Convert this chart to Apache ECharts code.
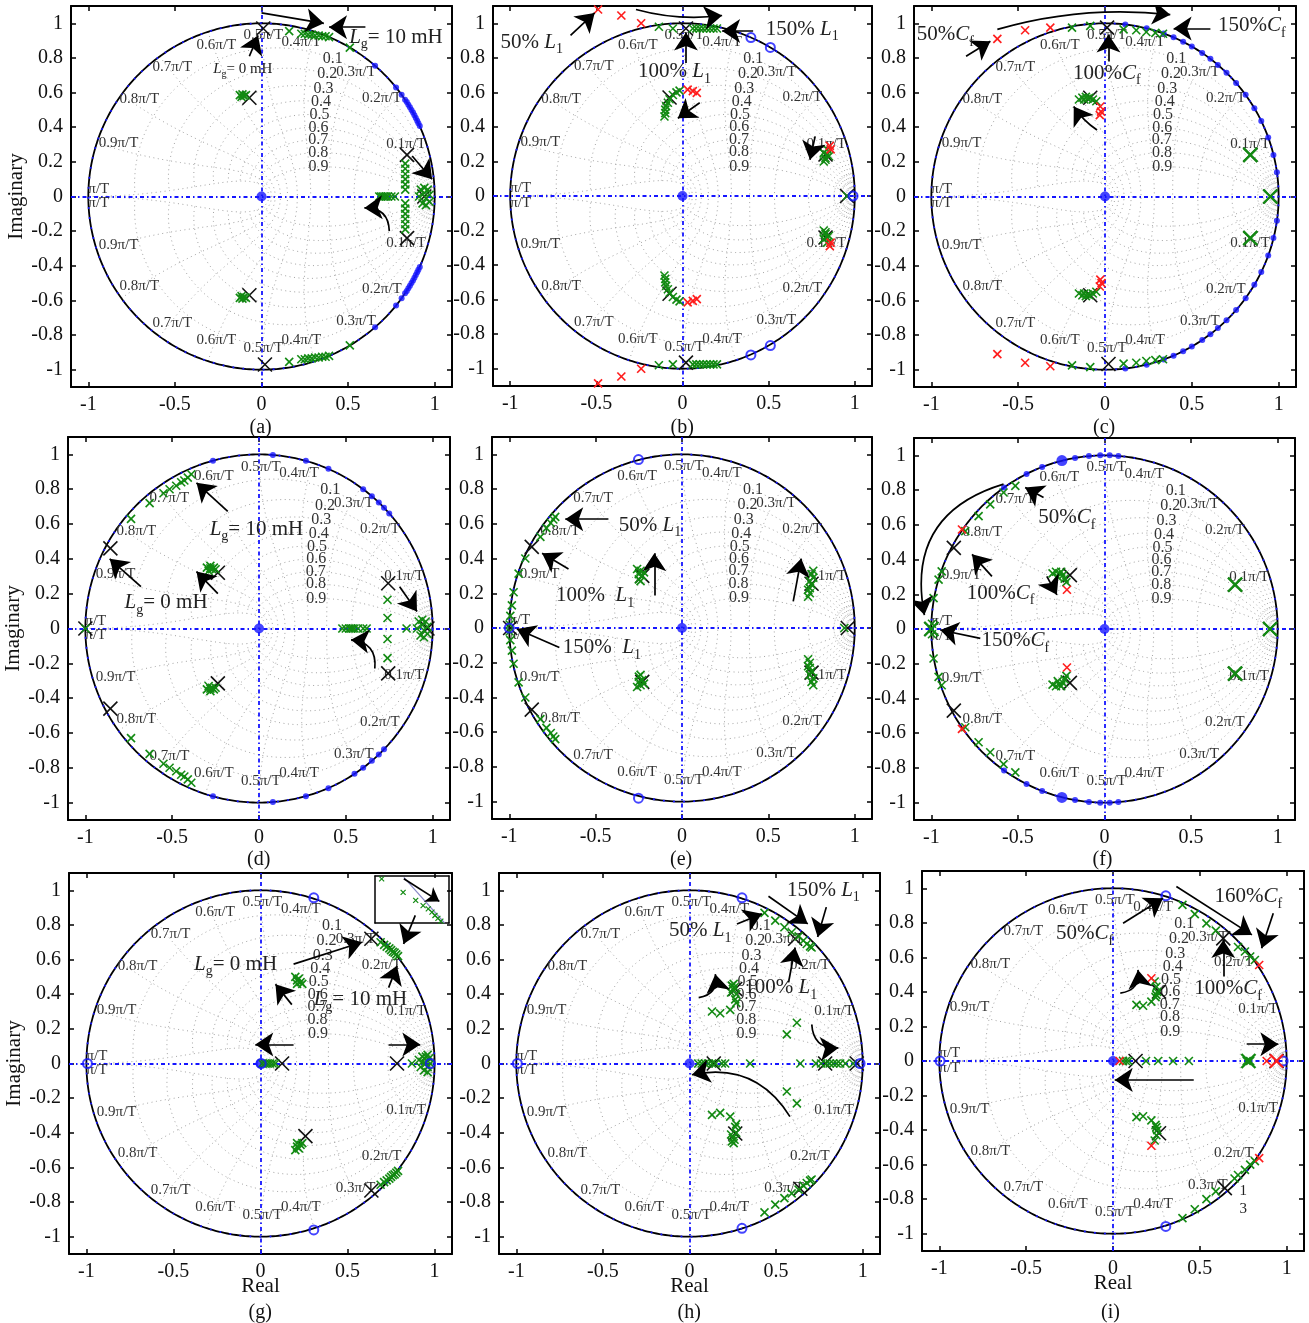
<!DOCTYPE html>
<html><head><meta charset="utf-8">
<script src="https://cdn.jsdelivr.net/npm/echarts@6/dist/echarts.min.js"></script>
<style>html,body{margin:0;padding:0;background:#fff}#c{width:1309px;height:1323px}</style>
</head><body><div id="c"></div>
<script>
// ---------------- tick labels / categories ----------------
const xTicks = [-1, -0.5, 0, 0.5, 1];
const yTicks = [-1, -0.8, -0.6, -0.4, -0.2, 0, 0.2, 0.4, 0.6, 0.8, 1];
const captions = ['(a)', '(b)', '(c)', '(d)', '(e)', '(f)', '(g)', '(h)', '(i)'];
const zetaValues = [0.1, 0.2, 0.3, 0.4, 0.5, 0.6, 0.7, 0.8, 0.9];
const wnValues = [0.1, 0.2, 0.3, 0.4, 0.5, 0.6, 0.7, 0.8, 0.9, 1.0];
const wnSmallValues = [0.016, 0.029, 0.041];
const wnLabels = ['0.1π/T', '0.2π/T', '0.3π/T', '0.4π/T', '0.5π/T', '0.6π/T', '0.7π/T', '0.8π/T', '0.9π/T', 'π/T'];

// ---------------- panel (a) ----------------
const aGreen = [[0.16,0.955],[0.23,0.94],[0.25,0.94],[0.27,0.935],[0.29,0.935],[0.31,0.93],[0.33,0.93],[0.35,0.925],[0.37,0.925],[0.39,0.92],[0.51,0.86],
 [0.16,-0.955],[0.23,-0.94],[0.25,-0.94],[0.27,-0.935],[0.29,-0.935],[0.31,-0.93],[0.33,-0.93],[0.35,-0.925],[0.37,-0.925],[0.39,-0.92],[0.51,-0.86],
 [-0.125,0.585],[-0.11,0.59],[-0.1,0.58],[-0.09,0.585],[-0.115,0.575],
 [-0.125,-0.585],[-0.11,-0.59],[-0.1,-0.58],[-0.09,-0.585],[-0.115,-0.575],
 [0.83,0.19],[0.83,0.16],[0.83,0.13],[0.83,0.1],[0.83,0.07],[0.83,0.04],
 [0.83,-0.19],[0.83,-0.16],[0.83,-0.13],[0.83,-0.1],[0.83,-0.07],[0.83,-0.04],
 [0.68,0],[0.69,0],[0.7,0],[0.71,0],[0.72,0],[0.73,0],[0.75,0],[0.77,0],
 [0.92,0.04],[0.94,0.05],[0.96,0.04],[0.97,0.01],[0.91,0],[0.93,-0.04],[0.95,-0.05],[0.97,-0.03],[0.94,0.02],[0.95,-0.01]];
const aRed = [];
const aBlack = [[0.01,0.97],[-0.07,0.57],[0.84,0.24],[0.94,0],[0.84,-0.24],[-0.07,-0.57],[0.02,-0.97]];
const aBlueOpen = [];
const aBlueDot = [[0.656,0.755],[0.777,0.629],[0.809,0.588],[0.829,0.559],[0.839,0.545],[0.848,0.53],[0.857,0.515],[0.866,0.5],[0.875,0.485],[0.883,0.469],[0.891,0.454],[0.899,0.438],[0.906,0.423],[0.914,0.407],
 [0.656,-0.755],[0.777,-0.629],[0.809,-0.588],[0.829,-0.559],[0.839,-0.545],[0.848,-0.53],[0.857,-0.515],[0.866,-0.5],[0.875,-0.485],[0.883,-0.469],[0.891,-0.454],[0.899,-0.438],[0.906,-0.423],[0.914,-0.407]];
const aArrows = [[0.0,1.06,0.36,1.0,0],[0.6,0.978,0.39,0.978,0],[-0.07,0.81,-0.02,0.93,0],[0.87,0.234,0.985,0.1,0],[0.738,-0.2,0.594,-0.066,-0.5]];
const aTexts = [[0.776,0.92,'{i|L}{s|g}= 10 mH','L'],[-0.108,0.736,'{i|L}{s|g}= 0 mH','S']];

// ---------------- panel (b) ----------------
const bGreen = [[-0.137,0.98],[-0.056,0.97],[0.06,0.97],[0.08,0.97],[0.1,0.97],[0.12,0.97],[0.14,0.97],[0.16,0.97],[0.18,0.97],[0.2,0.97],
 [-0.137,-0.98],[-0.056,-0.975],[0.06,-0.975],[0.08,-0.975],[0.1,-0.975],[0.12,-0.975],[0.14,-0.975],[0.16,-0.975],[0.18,-0.975],[0.2,-0.975],
 [-0.105,0.46],[-0.1,0.48],[-0.1,0.5],[-0.095,0.52],[-0.085,0.54],[-0.075,0.56],[-0.056,0.585],[-0.035,0.6],[-0.017,0.61],
 [-0.105,-0.46],[-0.1,-0.48],[-0.1,-0.5],[-0.095,-0.52],[-0.085,-0.54],[-0.075,-0.56],[-0.056,-0.585],[-0.035,-0.6],[-0.017,-0.61],
 [0.82,0.2],[0.83,0.22],[0.84,0.24],[0.82,0.25],[0.84,0.27],[0.83,0.21],[0.85,0.23],
 [0.82,-0.2],[0.83,-0.22],[0.84,-0.24],[0.82,-0.25],[0.84,-0.27],[0.83,-0.21],[0.85,-0.23],
 [0.955,0]];
const bRed = [[-0.49,1.08],[-0.355,1.045],[-0.24,1.0],[-0.49,-1.085],[-0.355,-1.045],[-0.24,-1.0],
 [0.03,0.616],[0.06,0.607],[0.083,0.597],[0.03,-0.616],[0.06,-0.607],[0.083,-0.597],
 [0.855,0.29],[0.86,0.27],[0.855,-0.29],[0.86,-0.27]];
const bBlack = [[0.02,0.97],[0.02,-0.965],[-0.075,0.57],[-0.075,-0.566],[0.83,0.24],[0.83,-0.24],[0.955,0]];
const bBlueOpen = [[0.397,0.917],[0.51,0.86],[0.397,-0.92],[0.51,-0.866],[0.99,0]];
const bBlueDot = [];
const bArrows = [[-0.65,0.93,-0.51,1.06,0],[-0.27,1.08,0.23,1.045,-0.1],[0.41,0.955,0.23,0.955,0],[0.02,0.77,0.02,0.946,0],[0.1,0.54,-0.027,0.45,0],[0.77,0.345,0.74,0.21,0]];
const bTexts = [[-0.875,0.89,'50% {i|L}{s|1}','L'],[0.695,0.965,'150% {i|L}{s|1}','L'],[-0.046,0.72,'100% {i|L}{s|1}','L']];

// ---------------- panel (c) ----------------
const cGreen = [[-0.19,0.975],[-0.085,0.985],[0.107,0.965],[0.18,0.96],[0.238,0.95],[0.29,0.945],[0.334,0.94],
 [-0.19,-0.975],[-0.085,-0.985],[0.107,-0.965],[0.18,-0.96],[0.238,-0.95],[0.29,-0.945],[0.334,-0.94],
 [-0.15,0.56],[-0.13,0.57],[-0.11,0.575],[-0.09,0.57],[-0.07,0.56],[-0.05,0.55],[-0.12,0.56],[-0.1,0.565],
 [-0.15,-0.56],[-0.13,-0.57],[-0.11,-0.575],[-0.09,-0.57],[-0.07,-0.56],[-0.05,-0.55],[-0.12,-0.56],[-0.1,-0.565]];
const cGreenBig = [[0.837,0.24],[0.837,-0.24],[0.952,0]];
const cRed = [[-0.62,0.91],[-0.46,0.96],[-0.315,0.975],[-0.62,-0.91],[-0.46,-0.96],[-0.315,-0.98],
 [-0.027,0.52],[-0.023,0.49],[-0.03,0.47],[-0.027,-0.48],[-0.02,-0.5],[-0.03,-0.52]];
const cBlack = [[0.012,0.975],[0.02,-0.967],[-0.085,0.57],[-0.085,-0.57],[0.837,0.24],[0.837,-0.24],[0.952,0]];
const cBlueOpen = [];
const cBlueDot = [[0.117,0.993],[0.24,0.971],[0.338,0.941],[0.395,0.919],[0.45,0.893],[0.5,0.866],[0.56,0.828],[0.607,0.795],[0.65,0.76],[0.7,0.714],[0.755,0.656],[0.81,0.587],[0.86,0.51],[0.9,0.436],[0.94,0.34],[0.97,0.24],[0.99,0.14],
 [0.117,-0.993],[0.24,-0.971],[0.338,-0.941],[0.395,-0.919],[0.45,-0.893],[0.5,-0.866],[0.56,-0.828],[0.607,-0.795],[0.65,-0.76],[0.7,-0.714],[0.755,-0.656],[0.81,-0.587],[0.86,-0.51],[0.9,-0.436],[0.94,-0.34],[0.97,-0.24],[0.99,-0.14]];
const cArrows = [[-0.62,0.965,0.376,1.05,0.1],[-0.8,0.81,-0.66,0.897,0],[0.607,0.97,0.395,0.97,0],[0.02,0.78,0.02,0.935,0],[-0.046,0.384,-0.18,0.52,0.1]];
const cTexts = [[-0.92,0.935,'50%{i|C}{s|f}','L'],[0.846,0.985,'150%{i|C}{s|f}','L'],[0.01,0.713,'100%{i|C}{s|f}','L']];

// ---------------- panel (d) ----------------
const dGreen = [[-0.737,0.63],[-0.63,0.72],[-0.55,0.777],[-0.515,0.8],[-0.477,0.82],[-0.448,0.84],[-0.43,0.85],[-0.41,0.867],[-0.39,0.886],
 [-0.737,-0.63],[-0.63,-0.72],[-0.55,-0.777],[-0.515,-0.8],[-0.477,-0.82],[-0.448,-0.84],[-0.43,-0.85],[-0.41,-0.867],[-0.39,-0.886],
 [-1,0],
 [-0.3,0.35],[-0.28,0.36],[-0.27,0.34],[-0.29,0.33],[-0.26,0.35],[-0.25,0.34],[-0.28,0.345],
 [-0.3,-0.35],[-0.28,-0.36],[-0.27,-0.34],[-0.29,-0.33],[-0.26,-0.35],[-0.25,-0.34],[-0.28,-0.345],
 [0.74,0.165],[0.74,0.06],[0.74,-0.06],[0.74,-0.17],
 [0.48,0],[0.5,0],[0.52,0],[0.53,0],[0.54,0],[0.55,0],[0.57,0],[0.6,0],[0.62,0],[0.85,0],
 [0.92,0.04],[0.94,0.05],[0.96,0.04],[0.97,0.01],[0.91,0],[0.93,-0.04],[0.95,-0.05],[0.97,-0.03],[0.94,0.02],[0.95,-0.01]];
const dRed = [];
const dBlack = [[-0.856,0.46],[-0.856,-0.46],[-1.0,0],[-0.237,0.32],[-0.237,-0.315],[0.744,0.26],[0.744,-0.258],[0.97,0]];
const dBlueOpen = [];
const dBlueDot = [[-0.265,0.964],[0.08,0.997],[0.27,0.963],[0.4,0.917],[0.6,0.8],[0.65,0.76],[0.69,0.724],[0.72,0.694],[0.75,0.66],
 [-0.265,-0.964],[0.08,-0.997],[0.27,-0.963],[0.4,-0.917],[0.55,-0.835],[0.6,-0.8],[0.65,-0.76],[0.69,-0.724],[0.72,-0.694]];
const dArrows = [[-0.18,0.673,-0.36,0.837,0],[-0.68,0.24,-0.86,0.4,0],[-0.237,0.2,-0.36,0.327,0],[0.81,0.24,0.91,0.098,0],[0.667,-0.23,0.53,-0.065,-0.5]];
const dTexts = [[-0.015,0.57,'{i|L}{s|g}= 10 mH','L'],[-0.535,0.15,'{i|L}{s|g}= 0 mH','L']];

// ---------------- panel (e) ----------------
const eGreen = [[-0.734,0.64],[-0.745,0.625],[-0.76,0.605],[-0.785,0.575],[-0.82,0.525],[-0.907,0.4],[-0.946,0.313],[-0.975,0.206],[-0.985,0.13],[-0.994,0.07],[-0.998,0.02],
 [-0.734,-0.64],[-0.745,-0.625],[-0.76,-0.605],[-0.785,-0.575],[-0.82,-0.525],[-0.907,-0.4],[-0.946,-0.313],[-0.975,-0.206],[-0.985,-0.13],[-0.994,-0.07],[-0.998,-0.02],
 [-0.26,0.34],[-0.24,0.33],[-0.25,0.31],[-0.23,0.3],[-0.25,0.28],[-0.24,0.27],[-0.22,0.32],
 [-0.26,-0.34],[-0.24,-0.33],[-0.25,-0.31],[-0.23,-0.3],[-0.25,-0.28],[-0.24,-0.27],[-0.22,-0.32],
 [0.73,0.18],[0.74,0.2],[0.73,0.22],[0.75,0.25],[0.74,0.27],[0.76,0.29],[0.75,0.31],[0.76,0.33],[0.74,0.23],
 [0.73,-0.18],[0.74,-0.2],[0.73,-0.22],[0.75,-0.25],[0.74,-0.27],[0.76,-0.29],[0.75,-0.31],[0.76,-0.33],[0.74,-0.23],
 [0.94,0]];
const eRed = [];
const eBlack = [[-0.87,0.467],[-0.87,-0.47],[-0.995,0],[-0.23,0.3],[-0.23,-0.31],[0.75,0.255],[0.75,-0.257],[0.96,0]];
const eBlueOpen = [[-0.252,0.97],[-0.252,-0.98],[-1,0]];
const eBlueDot = [];
const eArrows = [[-0.426,0.627,-0.676,0.627,0],[-0.657,0.34,-0.81,0.43,0],[-0.71,-0.112,-0.956,-0.006,0],[-0.16,0.187,-0.16,0.43,0],[0.644,0.153,0.69,0.4,0]];
const eTexts = [[-0.185,0.593,'50% {i|L}{s|1}','L'],[-0.503,0.187,'100%  {i|L}{s|1}','L'],[-0.464,-0.112,'150%  {i|L}{s|1}','L']];

// ---------------- panel (f) ----------------
const fGreen = [[-0.515,0.824],[-0.583,0.786],[-0.66,0.718],[-0.727,0.65],[-0.804,0.564],[-0.94,0.332],[-0.958,0.284],[-0.987,0.178],[-0.996,0.03],
 [-0.515,-0.826],[-0.583,-0.778],[-0.66,-0.71],[-0.727,-0.652],[-0.804,-0.566],[-0.94,-0.324],[-0.958,-0.276],[-0.987,-0.17],[-0.996,-0.03],
 [-0.3,0.32],[-0.28,0.33],[-0.26,0.32],[-0.24,0.31],[-0.23,0.29],[-0.22,0.27],[-0.27,0.3],[-0.25,0.33],
 [-0.3,-0.32],[-0.28,-0.33],[-0.26,-0.32],[-0.24,-0.31],[-0.23,-0.29],[-0.22,-0.27],[-0.27,-0.3],[-0.25,-0.33]];
const fGreenBig = [[0.754,0.255],[0.754,-0.257],[0.956,0],[-1.0,0]];
const fRed = [[-0.823,0.573],[-0.823,-0.575],[-0.217,0.226],[-0.217,-0.222]];
const fBlack = [[-0.87,0.467],[-0.87,-0.47],[-1.0,0],[-0.2,0.31],[-0.2,-0.31],[0.754,0.255],[0.754,-0.257],[0.956,0]];
const fBlueOpen = [];
const fBlueDot = [[-0.58,0.815],[-0.45,0.893],[-0.36,0.933],[-0.17,0.985],[-0.09,0.996],[-0.025,1.0],[0.03,1.0],[0.08,0.997],
 [-0.58,-0.815],[-0.45,-0.893],[-0.36,-0.933],[-0.17,-0.985],[-0.09,-0.996],[-0.025,-1.0],[0.03,-1.0],[0.08,-0.997]];
const fBlueBig = [[-0.246,0.97],[-0.246,-0.97]];
const fArrows = [[-0.583,0.834,-1.04,0.08,-0.45],[-0.352,0.757,-0.458,0.815,0],[-0.65,0.303,-0.765,0.43,0],[-0.333,0.303,-0.275,0.197,0],[-0.717,-0.054,-0.948,-0.006,0]];
const fTexts = [[-0.217,0.64,'50%{i|C}{s|f}','L'],[-0.6,0.206,'100%{i|C}{s|f}','L'],[-0.515,-0.068,'150%{i|C}{s|f}','L']];

// ---------------- panel (g) ----------------
const gGreen = [[0.69,0.7],[0.71,0.685],[0.725,0.675],[0.74,0.665],[0.75,0.655],[0.76,0.645],[0.77,0.64],[0.78,0.63],[0.79,0.62],
 [0.69,-0.7],[0.71,-0.685],[0.725,-0.675],[0.74,-0.665],[0.75,-0.655],[0.76,-0.645],[0.77,-0.64],[0.78,-0.63],[0.79,-0.62],
 [0.2,0.5],[0.21,0.48],[0.23,0.47],[0.22,0.49],[0.24,0.46],[0.21,0.46],
 [0.2,-0.5],[0.21,-0.48],[0.23,-0.47],[0.22,-0.49],[0.24,-0.46],[0.21,-0.46],
 [0.01,0],[0.025,0],[0.04,0],[0.055,0],[0.07,0],[0.085,0],
 [0.87,0],[0.91,0.02],[0.93,0.04],[0.95,0.04],[0.97,0.03],[0.96,-0.02],[0.94,-0.04],[0.92,-0.02],[0.975,0],[0.95,0],[0.93,0.01],[0.96,0.05],[0.96,-0.05]];
const gRed = [];
const gBlack = [[0.637,0.72],[0.637,-0.733],[0.124,0],[0.784,0],[0.258,-0.419]];
const gBlueOpen = [[0.306,0.957],[0.306,-0.961],[-0.994,0],[0.975,0],[0.004,0]];
const gBlueDot = [];
const gArrows = [[0.889,0.855,0.822,0.69,0],[0.19,0.574,0.583,0.7,0],[0.736,0.438,0.784,0.564,0],[0.18,0.34,0.086,0.458,0],[0.19,0.11,-0.03,0.11,0],[0.736,0.11,0.918,0.11,0]];
const gTexts = [[-0.143,0.574,'{i|L}{s|g}= 0 mH','L'],[0.574,0.367,'{i|L}{s|g}= 10 mH','L']];
// inset of (g), in its own 0..1 frame
const gInsetGreen = [[0.09,0.94],[0.38,0.65],[0.55,0.48],[0.65,0.37],[0.72,0.3],[0.77,0.23],[0.81,0.16],[0.85,0.1],[0.89,0.04]];
const gInsetArc = [[0.39,0.97],[0.94,0.0]];
const gInsetArrows = [[0.39,0.94,0.87,0.46,0]];

// ---------------- panel (h) ----------------
const hGreen = [[0.433,0.87],[0.495,0.825],[0.548,0.787],[0.59,0.758],[0.63,0.734],[0.658,0.71],[0.677,0.69],[0.696,0.676],[0.705,0.67],
 [0.433,-0.86],[0.495,-0.815],[0.548,-0.777],[0.59,-0.75],[0.63,-0.728],[0.658,-0.705],[0.677,-0.69],[0.696,-0.676],[0.705,-0.67],
 [0.245,0.45],[0.25,0.43],[0.26,0.44],[0.24,0.41],[0.255,0.46],[0.27,0.4],[0.13,0.3],[0.177,0.29],[0.235,0.31],[0.264,0.37],[0.27,0.35],
 [0.245,-0.45],[0.25,-0.43],[0.26,-0.44],[0.24,-0.41],[0.255,-0.46],[0.27,-0.4],[0.13,-0.297],[0.177,-0.285],[0.235,-0.307],[0.264,-0.366],[0.27,-0.35],
 [0.05,0],[0.07,0],[0.09,0],[0.11,0],[0.13,0],[0.15,0],[0.187,0],[0.206,0],[0.35,0],[0.64,0],[0.73,0],[0.76,0],[0.79,0],[0.81,0],[0.83,0],[0.85,0],[0.87,0],[0.9,0],[0.946,0],
 [0.562,0.168],[0.62,0.235],[0.562,-0.162],[0.62,-0.23]];
const hRed = [];
const hBlack = [[0.61,0.72],[0.64,-0.723],[0.264,0.43],[0.264,-0.404],[0.14,0],[0.783,0],[0.966,0]];
const hBlueOpen = [[0.303,0.957],[0.303,-0.952],[-0.994,0],[0.985,0]];
const hBlueDot = [];
const hArrows = [[0.456,0.966,0.683,0.806,0],[0.79,0.903,0.74,0.73,0],[0.274,0.806,0.418,0.864,0],[0.572,0.468,0.61,0.67,0],[0.053,0.38,0.149,0.516,-0.5],[0.706,0.225,0.86,0.09,-0.5],[0.58,-0.307,0.014,-0.065,-0.35]];
const hTexts = [[0.773,1.0,'150% {i|L}{s|1}','L'],[0.062,0.767,'50% {i|L}{s|1}','L'],[0.527,0.438,'100% {i|L}{s|1}','L']];

// ---------------- panel (i) ----------------
const iGreen = [[0.4,0.904],[0.471,0.85],[0.538,0.797],[0.592,0.755],[0.72,0.66],[0.76,0.634],[0.79,0.605],[0.817,0.585],
 [0.817,-0.58],[0.79,-0.6],[0.76,-0.63],[0.72,-0.66],[0.7,-0.68],[0.592,-0.755],[0.538,-0.8],[0.471,-0.858],[0.4,-0.91],
 [0.135,0.325],[0.173,0.32],[0.221,0.344],[0.25,0.383],[0.25,0.43],[0.24,0.46],[0.255,0.4],[0.245,0.37],
 [0.135,-0.325],[0.173,-0.32],[0.221,-0.344],[0.25,-0.383],[0.25,-0.43],[0.24,-0.46],[0.255,-0.4],[0.245,-0.37],
 [0.058,0],[0.075,0],[0.09,0],[0.19,0],[0.26,0],[0.346,0],[0.437,0],[0.77,0],[0.79,0]];
const iGreenBig = [[0.78,0]];
const iRed = [[0.842,0.556],[0.842,-0.562],[0.221,0.479],[0.221,-0.491],[0.038,0],[0.885,0]];
const iRedBig = [[0.942,0]];
const iBlack = [[0.635,0.71],[0.644,-0.736],[0.265,0.402],[0.265,-0.418],[0.13,0],[0.942,0]];
const iBlueOpen = [[0.304,0.956],[0.304,-0.958],[-0.996,0],[0.98,0]];
const iBlueDot = [];
const iArrows = [[0.365,1.01,0.8,0.73,0],[0.923,0.855,0.856,0.653,0],[0.058,0.797,0.288,0.942,0],[0.635,0.489,0.635,0.7,0],[0.042,0.393,0.144,0.527,-0.5],[0.77,0.097,0.952,0.097,0],[0.465,-0.11,0.01,-0.11,0]];
const iTexts = [[0.78,0.95,'160%{i|C}{s|f}','L'],[-0.163,0.736,'50%{i|C}{s|f}','L'],[0.663,0.42,'100%{i|C}{s|f}','L'],[0.75,-0.755,'1','S'],[0.75,-0.86,'3','S']];

// ---------------- assembly ----------------
const PANELS = [
 {green:aGreen, red:aRed, black:aBlack, blueOpen:aBlueOpen, blueDot:aBlueDot, arrows:aArrows, texts:aTexts},
 {green:bGreen, red:bRed, black:bBlack, blueOpen:bBlueOpen, blueDot:bBlueDot, arrows:bArrows, texts:bTexts},
 {green:cGreen, greenBig:cGreenBig, red:cRed, black:cBlack, blueOpen:cBlueOpen, blueDot:cBlueDot, arrows:cArrows, texts:cTexts},
 {green:dGreen, red:dRed, black:dBlack, blueOpen:dBlueOpen, blueDot:dBlueDot, arrows:dArrows, texts:dTexts},
 {green:eGreen, red:eRed, black:eBlack, blueOpen:eBlueOpen, blueDot:eBlueDot, arrows:eArrows, texts:eTexts},
 {green:fGreen, greenBig:fGreenBig, red:fRed, black:fBlack, blueOpen:fBlueOpen, blueDot:fBlueDot, blueBig:fBlueBig, arrows:fArrows, texts:fTexts},
 {green:gGreen, red:gRed, black:gBlack, blueOpen:gBlueOpen, blueDot:gBlueDot, arrows:gArrows, texts:gTexts},
 {green:hGreen, red:hRed, black:hBlack, blueOpen:hBlueOpen, blueDot:hBlueDot, arrows:hArrows, texts:hTexts},
 {green:iGreen, greenBig:iGreenBig, red:iRed, redBig:iRedBig, black:iBlack, blueOpen:iBlueOpen, blueDot:iBlueDot, arrows:iArrows, texts:iTexts}
];

// layout (page pixels): left, top, width, height
const LAYOUT = [[71,6,381,381],[493,6,379,380],[914,6,382,381],
 [68,437,382,383],[492,437,380,382],[914,438,381,382],
 [69,873,383,381],[499,873,381,381],[922,871,382,380]];
const INSET = [375,876,74,47];
const CAPTION_Y = [430,862,1315];
const FONT = 'Liberation Serif';
const GREEN = '#128a12', RED = '#ff1c1c', BLUE = '#1515ff', BLACK = '#111';

// z-plane grid geometry (standard zgrid curves)
function zgridCurves(wnList, withZeta) {
 const out = [];
 if (withZeta) {
  for (const z of zetaValues) {
   const up = [], dn = [], s = Math.sqrt(1 - z*z);
   for (let k = 0; k <= 80; k++) { const w = Math.PI*k/80, r = Math.exp(-z*w), t = w*s;
    up.push([r*Math.cos(t), r*Math.sin(t)]); dn.push([r*Math.cos(t), -r*Math.sin(t)]); }
   out.push(up, dn);
  }
 }
 for (const m of wnList) {
  const w = m*Math.PI, up = [], dn = [];
  for (let k = 0; k <= 50; k++) { const z = k/50, r = Math.exp(-z*w), t = w*Math.sqrt(1 - z*z);
   up.push([r*Math.cos(t), r*Math.sin(t)]); dn.push([r*Math.cos(t), -r*Math.sin(t)]); }
  out.push(up, dn);
 }
 return out;
}
const ZGRID = zgridCurves(wnValues, true);
const ZGRID_SMALL = zgridCurves(wnSmallValues, false);
const CIRCLE = []; for (let k = 0; k <= 360; k++) { const t = k*Math.PI/180; CIRCLE.push([Math.cos(t), Math.sin(t)]); }

// grid labels layout
const WN_UP_Y = [0.30,0.57,0.72,0.89,0.93,0.875,0.75,0.56,0.31,0.045];
const WN_DN_Y = [-0.27,-0.535,-0.72,-0.83,-0.875,-0.83,-0.73,-0.52,-0.28,-0.04];
const WN_X = [0.95,0.81,0.66,0.345,0.01,-0.375,-0.63,-0.82,-0.94,-1.0];
const WN_ALIGN = ['right','right','right','right','center','left','left','left','left','left'];
const GRID_LABELS = [];
wnLabels.forEach((t, k) => {
 GRID_LABELS.push({x:WN_X[k], y:WN_UP_Y[k], text:t, align:WN_ALIGN[k], fs:15});
 GRID_LABELS.push({x:WN_X[k], y:WN_DN_Y[k], text:t, align:WN_ALIGN[k], fs:15});
});
zetaValues.forEach(z => {
 const w = 1.1, r = Math.exp(-z*w), t = w*Math.sqrt(1 - z*z);
 GRID_LABELS.push({x:r*Math.cos(t), y:r*Math.sin(t), text:String(z), align:'center', fs:16});
});

function crossSeries(ai, data, color, size, lw, z) {
 return {type:'custom', xAxisIndex:ai, yAxisIndex:ai, data:data, silent:true, z:z, clip:false,
  renderItem:(p, api) => {
   const c = api.coord([api.value(0), api.value(1)]), h = size/2;
   return {type:'group', children:[
    {type:'line', shape:{x1:c[0]-h, y1:c[1]-h, x2:c[0]+h, y2:c[1]+h}, style:{stroke:color, lineWidth:lw}},
    {type:'line', shape:{x1:c[0]-h, y1:c[1]+h, x2:c[0]+h, y2:c[1]-h}, style:{stroke:color, lineWidth:lw}}]};
  }};
}
function richFor(fs) {
 return {i:{fontStyle:'italic', fontSize:fs, fontFamily:FONT, fill:'#222'},
         s:{fontSize:Math.round(fs*0.66), fontFamily:FONT, fill:'#222', padding:[Math.round(fs*0.7),0,0,0]}};
}
function textSeries(ai, items) {
 return {type:'custom', xAxisIndex:ai, yAxisIndex:ai, data:items.map(t => [t[0], t[1]]), silent:true, z:9, clip:false,
  renderItem:(p, api) => {
   const t = items[p.dataIndex], c = api.coord([t[0], t[1]]), fs = t[3] === 'L' ? 21 : 15;
   return {type:'text', x:c[0], y:c[1], style:{text:t[2], rich:richFor(fs), fontSize:fs, fontFamily:FONT, fill:'#222', align:'center', verticalAlign:'middle'}};
  }};
}
function gridLabelSeries(ai) {
 return {type:'custom', xAxisIndex:ai, yAxisIndex:ai, data:GRID_LABELS.map(l => [l.x, l.y]), silent:true, z:3, clip:false,
  renderItem:(p, api) => {
   const l = GRID_LABELS[p.dataIndex], c = api.coord([l.x, l.y]);
   return {type:'text', x:c[0], y:c[1], style:{text:l.text, fontSize:l.fs, fontFamily:FONT, fill:'#333', align:l.align, verticalAlign:'middle'}};
  }};
}
function arrowSeries(ai, arrows, size) {
 return {type:'lines', coordinateSystem:'cartesian2d', xAxisIndex:ai, yAxisIndex:ai, silent:true, z:8,
  symbol:['none','arrow'], symbolSize:[0,size || 18],
  lineStyle:{color:'#000', width:1.7, opacity:1},
  data:arrows.map(a => ({coords:[[a[0],a[1]],[a[2],a[3]]], lineStyle:{curveness:a[4], color:'#000', width:1.7, opacity:1}}))};
}

const grids = [], xAxes = [], yAxes = [], series = [], graphics = [];
const boxLine = {show:true, onZero:false, lineStyle:{color:'#000', width:2}};
function addAxes(gi, min, max, xt, yt, showLabels, names) {
 const tick = (vals) => ({show:vals.length > 0, inside:true, length:5, customValues:vals, lineStyle:{color:'#000', width:1.5}});
 const lab = (vals, show) => ({show:show, customValues:vals, margin:8, fontSize:20, fontFamily:FONT, color:'#111'});
 xAxes.push({type:'value', gridIndex:gi, min:min, max:max, position:'bottom', splitLine:{show:false}, axisLine:boxLine, axisTick:tick(xt), axisLabel:lab(xt, showLabels),
  name:names.x || '', nameLocation:'middle', nameGap:22, nameMoveOverlap:false, nameTextStyle:{fontSize:21, fontFamily:FONT, color:'#111'}});
 xAxes.push({type:'value', gridIndex:gi, min:min, max:max, position:'top', splitLine:{show:false}, axisLine:boxLine, axisTick:tick(xt), axisLabel:{show:false}});
 yAxes.push({type:'value', gridIndex:gi, min:min, max:max, position:'left', splitLine:{show:false}, axisLine:boxLine, axisTick:tick(yt), axisLabel:lab(yt, showLabels),
  name:names.y || '', nameLocation:'middle', nameGap:44, nameMoveOverlap:false, nameRotate:90, nameTextStyle:{fontSize:21, fontFamily:FONT, color:'#111'}});
 yAxes.push({type:'value', gridIndex:gi, min:min, max:max, position:'right', splitLine:{show:false}, axisLine:boxLine, axisTick:tick(yt), axisLabel:{show:false}});
}

PANELS.forEach((d, i) => {
 const L = LAYOUT[i];
 grids.push({left:L[0], top:L[1], width:L[2], height:L[3]});
 addAxes(i, -1.1, 1.1, xTicks, yTicks, true, {x: i >= 6 ? 'Real' : '', y: i % 3 === 0 ? 'Imaginary' : ''});
 const ai = 2*i;
 const base = {coordinateSystem:'cartesian2d', xAxisIndex:ai, yAxisIndex:ai, silent:true};
 series.push({type:'lines', ...base, polyline:true, z:1, lineStyle:{color:'#a4a4a4', width:1, type:[1,3.5], opacity:1}, data:ZGRID.map(c => ({coords:c}))});
 series.push({type:'lines', ...base, polyline:true, z:1, lineStyle:{color:'#c4c4c4', width:1, type:[1.5,1.5], opacity:1}, data:ZGRID_SMALL.map(c => ({coords:c}))});
 series.push({type:'lines', ...base, z:2, lineStyle:{color:BLUE, width:1.8, type:[4,3,1.5,3], opacity:1}, data:[{coords:[[-1.1,0],[1.1,0]]},{coords:[[0,-1.1],[0,1.1]]}]});
 series.push({type:'lines', ...base, polyline:true, z:2, lineStyle:{color:'#000', width:1.8, opacity:1}, data:[{coords:CIRCLE}]});
 series.push({type:'lines', ...base, polyline:true, z:2, lineStyle:{color:BLUE, width:2, type:[0.1,10], cap:'round', opacity:1}, data:[{coords:CIRCLE}]});
 series.push(gridLabelSeries(ai));
 series.push({type:'scatter', xAxisIndex:ai, yAxisIndex:ai, silent:true, z:4, symbol:'circle', symbolSize:6, itemStyle:{color:BLUE}, data:d.blueDot});
 if (d.blueBig) series.push({type:'scatter', xAxisIndex:ai, yAxisIndex:ai, silent:true, z:4, symbol:'circle', symbolSize:11, itemStyle:{color:BLUE}, data:d.blueBig});
 series.push({type:'scatter', xAxisIndex:ai, yAxisIndex:ai, silent:true, z:4, symbol:'circle', symbolSize:10, itemStyle:{color:BLUE}, data:[[0,0]]});
 series.push({type:'scatter', xAxisIndex:ai, yAxisIndex:ai, silent:true, z:6, symbol:'circle', symbolSize:9, itemStyle:{color:'rgba(255,255,255,0)', borderColor:BLUE, borderWidth:2}, data:d.blueOpen});
 series.push(crossSeries(ai, d.black, BLACK, 14, 1.6, 5));
 series.push(crossSeries(ai, d.green, GREEN, 8, 1.6, 6));
 if (d.greenBig) series.push(crossSeries(ai, d.greenBig, GREEN, 14, 2.4, 6));
 series.push(crossSeries(ai, d.red, RED, 8, 1.6, 7));
 if (d.redBig) series.push(crossSeries(ai, d.redBig, RED, 13, 2.2, 7));
 series.push(arrowSeries(ai, d.arrows));
 series.push(textSeries(ai, d.texts));
 graphics.push({type:'text', left:L[0] + L[2]/2 - 12, top:CAPTION_Y[Math.floor(i/3)] - 12, style:{text:captions[i], fontSize:20, fontFamily:FONT, fill:'#111'}});
});

// inset of panel (g)
grids.push({left:INSET[0], top:INSET[1], width:INSET[2], height:INSET[3]});
(function(){
 const gi = 9, ai = 18;
 const ln = {show:true, onZero:false, lineStyle:{color:'#000', width:1.5}};
 xAxes.push({type:'value', gridIndex:gi, min:0, max:1, position:'bottom', splitLine:{show:false}, axisLine:ln, axisTick:{show:false}, axisLabel:{show:false}});
 xAxes.push({type:'value', gridIndex:gi, min:0, max:1, position:'top', splitLine:{show:false}, axisLine:ln, axisTick:{show:false}, axisLabel:{show:false}});
 yAxes.push({type:'value', gridIndex:gi, min:0, max:1, position:'left', splitLine:{show:false}, axisLine:ln, axisTick:{show:false}, axisLabel:{show:false}});
 yAxes.push({type:'value', gridIndex:gi, min:0, max:1, position:'right', splitLine:{show:false}, axisLine:ln, axisTick:{show:false}, axisLabel:{show:false}});
 series.push({type:'lines', coordinateSystem:'cartesian2d', xAxisIndex:ai, yAxisIndex:ai, silent:true, z:3, lineStyle:{color:'#8a8ac8', width:1.2, opacity:1}, data:[{coords:gInsetArc}]});
 series.push(crossSeries(ai, gInsetGreen, GREEN, 5, 1.2, 6));
 series.push(arrowSeries(ai, gInsetArrows, 13));
})();

const chart = echarts.init(document.getElementById('c'), null, {renderer:'canvas', width:1309, height:1323});
chart.setOption({animation:false, backgroundColor:'#fff', grid:grids, xAxis:xAxes, yAxis:yAxes, series:series, graphic:graphics});
</script></body></html>
